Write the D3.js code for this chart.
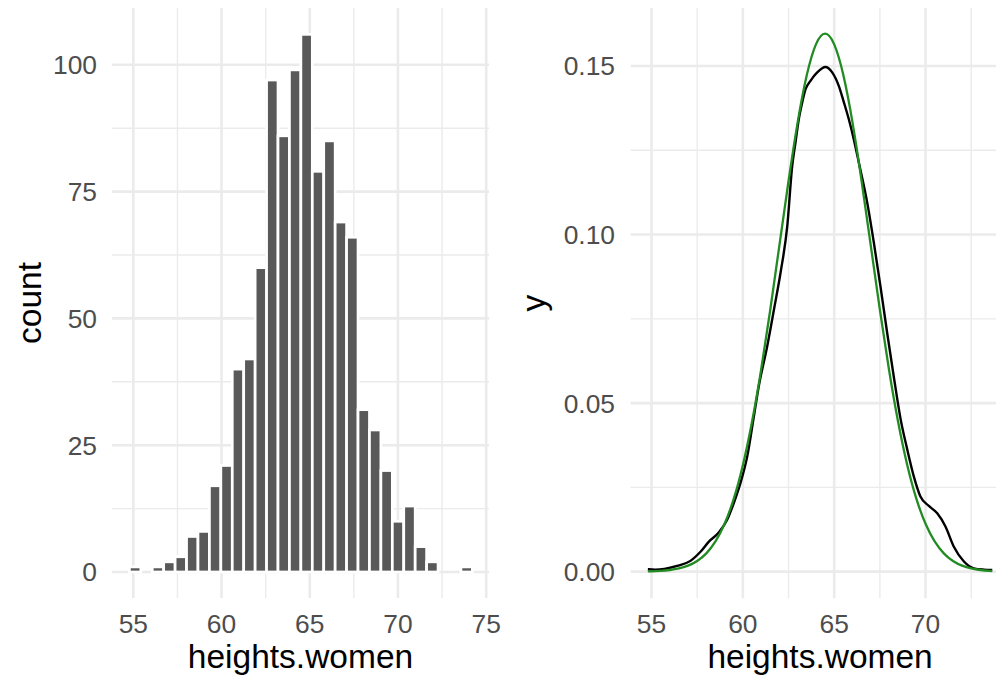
<!DOCTYPE html>
<html>
<head>
<meta charset="utf-8">
<script src="https://cdn.jsdelivr.net/npm/d3@7"></script>
<style>
  html, body { margin: 0; padding: 0; background: #fff; }
  svg { display: block; font-family: "Liberation Sans", Arial, Helvetica, sans-serif; }
</style>
</head>
<body>
<svg id="chart" width="996" height="679"></svg>
<script>
// ---------------- DATA ----------------
// Histogram of heights.women (30 bins)
const binStart = 54.776;
const binWidth = 0.648;
const binCounts = [1, 0, 1, 2, 3, 7, 8, 17, 21, 40, 42, 60, 97, 86, 99, 106, 79, 85, 69, 66, 32, 28, 20, 10, 13, 5, 2, 0, 0, 1];

// Kernel density estimate (black)
const kdeX = [54.8, 55.2, 55.7, 56.4, 57.13, 57.68, 58.14, 58.68, 59.14, 59.5, 59.87, 60.24, 60.6, 60.87, 61.33, 61.7, 62.06, 62.43, 62.7, 62.88, 63.06, 63.25, 63.43, 63.7, 64.07, 64.52, 64.89, 65.25, 65.53, 65.8, 66.07, 66.35, 66.81, 67.17, 67.53, 67.9, 68.26, 68.63, 69.0, 69.36, 69.72, 70.18, 70.64, 71.09, 71.55, 72.1, 72.64, 73.2, 73.65];
const kdeY = [0.0007, 0.0006, 0.0008, 0.0017, 0.0032, 0.0059, 0.0089, 0.0116, 0.0154, 0.0203, 0.0263, 0.0342, 0.046, 0.055, 0.0668, 0.0777, 0.0886, 0.1025, 0.1203, 0.1273, 0.1342, 0.1392, 0.1431, 0.1456, 0.1481, 0.1497, 0.1481, 0.1441, 0.1392, 0.1342, 0.1283, 0.1213, 0.1094, 0.0976, 0.0847, 0.0708, 0.0579, 0.0454, 0.0362, 0.0282, 0.0223, 0.0195, 0.0173, 0.0134, 0.0074, 0.003, 0.001, 0.0006, 0.0005];

// Normal density (green)
const normX = [54.8, 55.5, 56, 56.5, 57, 57.5, 58, 58.5, 59, 59.5, 60, 60.5, 61, 61.5, 62, 62.5, 63, 63.5, 64, 64.5, 65, 65.5, 66, 66.5, 67, 67.5, 68, 68.5, 69, 69.5, 70, 70.5, 71, 71.5, 72, 72.5, 73, 73.5, 73.65];
const normY = [0.000086, 0.000245, 0.000493, 0.000954, 0.001773, 0.003166, 0.005433, 0.008958, 0.01419, 0.021597, 0.03158, 0.04437, 0.05989, 0.07768, 0.09679, 0.11588, 0.13329, 0.14731, 0.15642, 0.15958, 0.15642, 0.14731, 0.13329, 0.11588, 0.09679, 0.07768, 0.05989, 0.04437, 0.03158, 0.021597, 0.01419, 0.008958, 0.005433, 0.003166, 0.001773, 0.000954, 0.000493, 0.000245, 0.000197];

// Ticks
const histXTicks = [55, 60, 65, 70, 75];
const histXMinor = [57.5, 62.5, 67.5, 72.5];
const histYTicks = [0, 25, 50, 75, 100];
const histYMinor = [12.5, 37.5, 62.5, 87.5];
const densXTicks = [55, 60, 65, 70, 75];
const densXMinor = [57.5, 62.5, 67.5, 72.5];
const densYTicks = [0, 0.05, 0.10, 0.15];
const densYMinor = [0.025, 0.075, 0.125];
const densYLabels = ["0.00", "0.05", "0.10", "0.15"];

// ---------------- DRAW ----------------
const svg = d3.select("#chart");
const gridColor = "#EBEBEB";
const tickColor = "#4D4D4D";
const tickSize = 26.4;
const titleSize = 33.5;
const majorW = 2.6, minorW = 1.4;

function grid(g, x, y, xMaj, xMin, yMaj, yMin) {
  const [x0, x1] = x.range();
  const [y0, y1] = y.range();
  const inX = v => v >= x.domain()[0] && v <= x.domain()[1];
  const inY = v => v >= y.domain()[0] && v <= y.domain()[1];
  g.append("g").selectAll("line").data(yMin.filter(inY)).join("line")
    .attr("x1", x0).attr("x2", x1).attr("y1", d => y(d)).attr("y2", d => y(d))
    .attr("stroke", gridColor).attr("stroke-width", minorW);
  g.append("g").selectAll("line").data(xMin.filter(inX)).join("line")
    .attr("y1", y0).attr("y2", y1).attr("x1", d => x(d)).attr("x2", d => x(d))
    .attr("stroke", gridColor).attr("stroke-width", minorW);
  g.append("g").selectAll("line").data(yMaj.filter(inY)).join("line")
    .attr("x1", x0).attr("x2", x1).attr("y1", d => y(d)).attr("y2", d => y(d))
    .attr("stroke", gridColor).attr("stroke-width", majorW);
  g.append("g").selectAll("line").data(xMaj.filter(inX)).join("line")
    .attr("y1", y0).attr("y2", y1).attr("x1", d => x(d)).attr("x2", d => x(d))
    .attr("stroke", gridColor).attr("stroke-width", majorW);
}

function axes(x, y, xt, yt, ylabels, labelRight, xLabelY) {
  const xt2 = xt.filter(v => v >= x.domain()[0] && v <= x.domain()[1]);
  svg.append("g").selectAll("text").data(xt2).join("text")
    .attr("x", d => x(d)).attr("y", xLabelY)
    .attr("text-anchor", "middle").attr("font-size", tickSize).attr("fill", tickColor)
    .text(d => d);
  svg.append("g").selectAll("text").data(yt).join("text")
    .attr("x", labelRight).attr("y", d => y(d)).attr("dy", "0.36em")
    .attr("text-anchor", "end").attr("font-size", tickSize).attr("fill", tickColor)
    .text((d, i) => ylabels ? ylabels[i] : d);
}

// Left: histogram
const x1 = d3.scaleLinear().domain([53.79, 75.16]).range([112, 489]);
const y1 = d3.scaleLinear().domain([-5.13, 111.2]).range([598, 8]);
const gL = svg.append("g");
grid(gL, x1, y1, histXTicks, histXMinor, histYTicks, histYMinor);
gL.append("g").selectAll("rect").data(binCounts).join("rect")
  .attr("x", (d, i) => x1(binStart + i * binWidth))
  .attr("width", (d, i) => x1(binStart + (i + 1) * binWidth) - x1(binStart + i * binWidth))
  .attr("y", d => y1(d))
  .attr("height", d => y1(0) - y1(d))
  .attr("fill", "#595959").attr("stroke", "#FFFFFF").attr("stroke-width", 2.7);
axes(x1, y1, histXTicks, histYTicks, null, 97, 633);
svg.append("text").attr("x", (112 + 489) / 2).attr("y", 668)
  .attr("text-anchor", "middle").attr("font-size", titleSize).attr("fill", "#000")
  .text("heights.women");
svg.append("text").attr("transform", `translate(41,${(8 + 598) / 2}) rotate(-90)`)
  .attr("text-anchor", "middle").attr("font-size", titleSize).attr("fill", "#000")
  .text("count");

// Right: density
const x2 = d3.scaleLinear().domain([53.86, 74.59]).range([630.7, 1009.4]);
const y2 = d3.scaleLinear().domain([-0.0079, 0.1672]).range([598.3, 8]);
const gR = svg.append("g");
grid(gR, x2, y2, densXTicks, densXMinor, densYTicks, densYMinor);
const line = d3.line().x(d => x2(d[0])).y(d => y2(d[1]));
gR.append("path").datum(d3.zip(kdeX, kdeY))
  .attr("d", line.curve(d3.curveMonotoneX))
  .attr("fill", "none").attr("stroke", "#000").attr("stroke-width", 2.4);
gR.append("path").datum(d3.zip(normX, normY))
  .attr("d", line.curve(d3.curveNatural))
  .attr("fill", "none").attr("stroke", "#228B22").attr("stroke-width", 2.3);
axes(x2, y2, densXTicks, densYTicks, densYLabels, 615, 633);
svg.append("text").attr("x", (630.7 + 1009.4) / 2).attr("y", 668)
  .attr("text-anchor", "middle").attr("font-size", titleSize).attr("fill", "#000")
  .text("heights.women");
svg.append("text").attr("transform", `translate(545,${(8 + 598) / 2}) rotate(-90)`)
  .attr("text-anchor", "middle").attr("font-size", titleSize).attr("fill", "#000")
  .text("y");
</script>
</body>
</html>
